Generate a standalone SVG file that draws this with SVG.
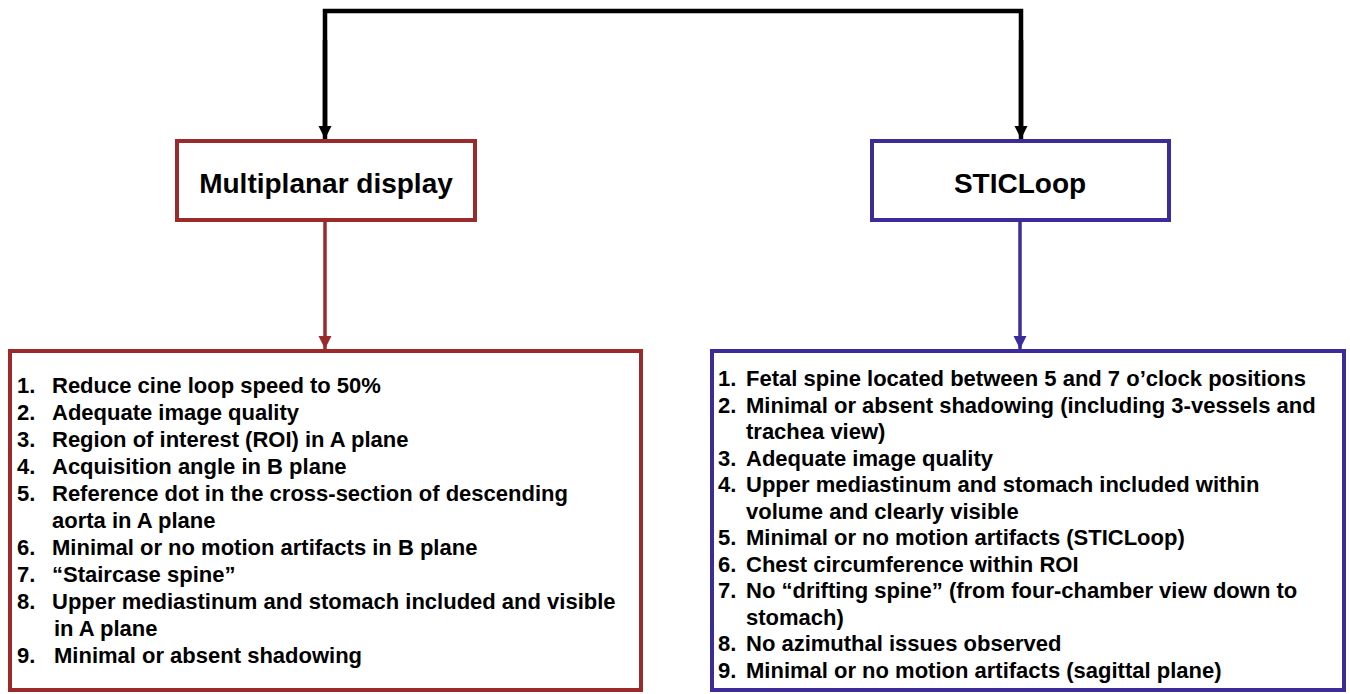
<svg xmlns="http://www.w3.org/2000/svg" width="1350" height="694" viewBox="0 0 1350 694">
<defs>
<style>
.t{font-family:"Liberation Sans",Arial,sans-serif;font-weight:bold;fill:#000}
.title{font-size:28px}
.item{font-size:22px}
.red{fill:#fff;stroke:#9b2b2a;stroke-width:4}
.blue{fill:#fff;stroke:#3c2c99;stroke-width:4}
</style>
<marker id="ab" viewBox="0 0 10 10" refX="10" refY="5" markerWidth="13" markerHeight="14" markerUnits="userSpaceOnUse" orient="auto"><path d="M0,0 L10,5 L0,10 Z" fill="#000"/></marker>
<marker id="ar" viewBox="0 0 10 10" refX="10" refY="5" markerWidth="13" markerHeight="14" markerUnits="userSpaceOnUse" orient="auto"><path d="M0,0 L10,5 L0,10 Z" fill="#9b2b2a"/></marker>
<marker id="au" viewBox="0 0 10 10" refX="10" refY="5" markerWidth="13" markerHeight="14" markerUnits="userSpaceOnUse" orient="auto"><path d="M0,0 L10,5 L0,10 Z" fill="#3c2c99"/></marker>
</defs>
<rect width="1350" height="694" fill="#fff"/>
<g id="connectors">
<path d="M325,130 V11 H1021 V130" fill="none" stroke="#000" stroke-width="4.5"/>
<path d="M325,40 V139" fill="none" stroke="#000" stroke-width="4.5" marker-end="url(#ab)"/>
<path d="M1021,40 V139" fill="none" stroke="#000" stroke-width="4.5" marker-end="url(#ab)"/>
<path d="M325,222 V349" fill="none" stroke="#9b2b2a" stroke-width="3.5" marker-end="url(#ar)"/>
<path d="M1020,222 V349" fill="none" stroke="#3c2c99" stroke-width="3.5" marker-end="url(#au)"/>
</g>
<g id="multiplanar">
<rect class="red" x="177" y="141" width="298" height="79"/>
<text class="t title" x="326" y="193" text-anchor="middle">Multiplanar display</text>
</g>
<g id="sticloop">
<rect class="blue" x="872" y="141" width="297" height="79"/>
<text class="t title" x="1020" y="193" text-anchor="middle">STICLoop</text>
</g>
<g id="multiplanar-criteria">
<rect class="red" x="10" y="351" width="631" height="339"/>
<g class="t item">
<text x="17" y="393">1.</text><text x="52" y="393">Reduce cine loop speed to 50%</text>
<text x="17" y="420">2.</text><text x="52" y="420">Adequate image quality</text>
<text x="17" y="447">3.</text><text x="52" y="447">Region of interest (ROI) in A plane</text>
<text x="17" y="474">4.</text><text x="52" y="474">Acquisition angle in B plane</text>
<text x="17" y="501">5.</text><text x="52" y="501">Reference dot in the cross-section of descending</text>
<text x="52" y="528">aorta in A plane</text>
<text x="17" y="555">6.</text><text x="52" y="555">Minimal or no motion artifacts in B plane</text>
<text x="17" y="582">7.</text><text x="52" y="582">“Staircase spine”</text>
<text x="17" y="609">8.</text><text x="52" y="609">Upper mediastinum and stomach included and visible</text>
<text x="54" y="636">in A plane</text>
<text x="17" y="663">9.</text><text x="54" y="663">Minimal or absent shadowing</text>
</g>
</g>
<g id="sticloop-criteria">
<rect class="blue" x="712" y="351" width="632" height="339"/>
<g class="t item">
<text x="718" y="386">1.</text><text x="746" y="386">Fetal spine located between 5 and 7 o’clock positions</text>
<text x="718" y="413">2.</text><text x="746" y="413">Minimal or absent shadowing (including 3-vessels and</text>
<text x="746" y="439">trachea view)</text>
<text x="718" y="466">3.</text><text x="746" y="466">Adequate image quality</text>
<text x="718" y="492">4.</text><text x="746" y="492">Upper mediastinum and stomach included within</text>
<text x="746" y="519">volume and clearly visible</text>
<text x="718" y="545">5.</text><text x="746" y="545">Minimal or no motion artifacts (STICLoop)</text>
<text x="718" y="572">6.</text><text x="746" y="572">Chest circumference within ROI</text>
<text x="718" y="598">7.</text><text x="746" y="598">No “drifting spine” (from four-chamber view down to</text>
<text x="746" y="625">stomach)</text>
<text x="718" y="651">8.</text><text x="746" y="651">No azimuthal issues observed</text>
<text x="718" y="678">9.</text><text x="746" y="678">Minimal or no motion artifacts (sagittal plane)</text>
</g>
</g>
</svg>
